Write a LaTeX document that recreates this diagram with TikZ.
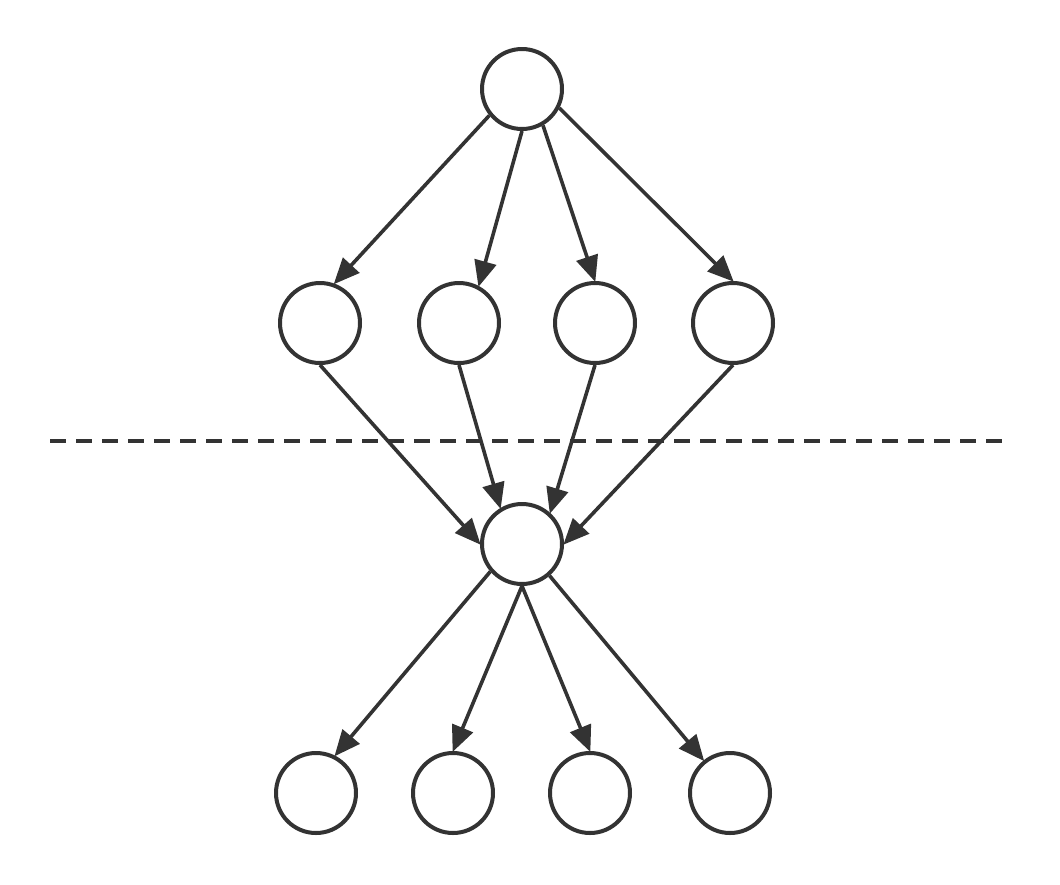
\documentclass[tikz,border=0pt]{standalone}
\usetikzlibrary{arrows.meta}
\definecolor{ink}{HTML}{333333}
\begin{document}
\begin{tikzpicture}[x=1pt,y=-1pt,
  vert/.style={circle,draw=ink,line width=4pt,inner sep=0pt,minimum size=80pt,fill=white},
  edge/.style={draw=ink,line width=3.6pt,-{Triangle[length=26pt,width=22pt]}, shorten >=-1pt},
  sep/.style={draw=ink,line width=4pt,dash pattern=on 16pt off 10pt}]
\useasboundingbox (0,0) rectangle (1060,884);
\coordinate (dl) at (50,441);
\coordinate (dr) at (1003,441);
\draw[sep] (dl) -- (dr);
\node[vert] (t) at (522,89) {};
\node[vert] (a1) at (320,323) {};
\node[vert] (a2) at (459,323) {};
\node[vert] (a3) at (595,323) {};
\node[vert] (a4) at (733,323) {};
\node[vert] (m) at (522,544) {};
\node[vert] (b1) at (316,793) {};
\node[vert] (b2) at (453,793) {};
\node[vert] (b3) at (590,793) {};
\node[vert] (b4) at (730,793) {};
\draw[edge] (t.219) -- (a1.70);
\draw[edge] (t.270) -- (a2.62);
\draw[edge] (t.300) -- (a3.90);
\draw[edge] (t.333) -- (a4.90);
\draw[edge] (a1.270) -- (m.180);
\draw[edge] (a2.270) -- (m.121);
\draw[edge] (a3.270) -- (m.48);
\draw[edge] (a4.270) -- (m.0);
\draw[edge] (m.221) -- (b1.63);
\draw[edge] (m.270) -- (b2.90);
\draw[edge] (m.270) -- (b3.90);
\draw[edge] (m.311) -- (b4.129);
\end{tikzpicture}
\end{document}
